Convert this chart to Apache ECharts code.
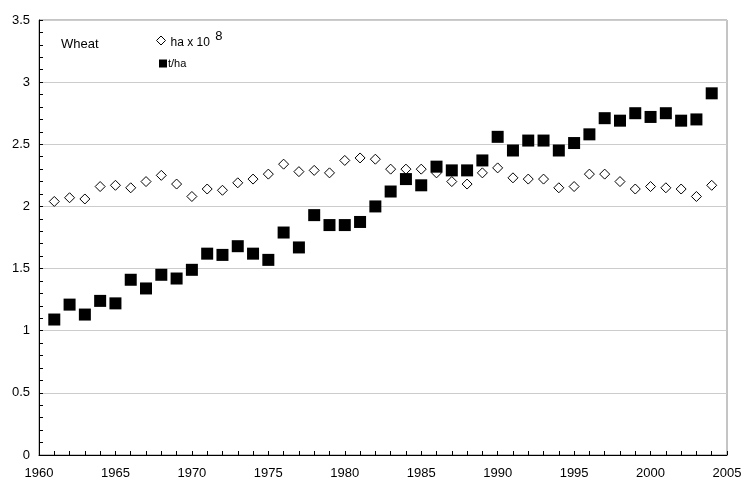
<!DOCTYPE html>
<html>
<head>
<meta charset="utf-8">
<script src="https://cdn.jsdelivr.net/npm/echarts@6/dist/echarts.min.js"></script>
<style>
  html, body { margin: 0; padding: 0; background: #fff; }
  #chart { width: 741px; height: 479px; }
</style>
</head>
<body>
<div id="chart"></div>
<script>
// Wheat: harvested area (ha x 10^8) and yield (t/ha), 1961-2004
const years = [1961,1962,1963,1964,1965,1966,1967,1968,1969,1970,
  1971,1972,1973,1974,1975,1976,1977,1978,1979,1980,
  1981,1982,1983,1984,1985,1986,1987,1988,1989,1990,
  1991,1992,1993,1994,1995,1996,1997,1998,1999,2000,
  2001,2002,2003,2004];

const areaHa = [2.04,2.07,2.06,2.16,2.17,2.15,2.20,2.25,2.18,2.08,
  2.14,2.13,2.19,2.22,2.26,2.34,2.28,2.29,2.27,2.37,
  2.39,2.38,2.30,2.30,2.30,2.27,2.20,2.18,2.27,2.31,
  2.23,2.22,2.22,2.15,2.16,2.26,2.26,2.20,2.14,2.16,
  2.15,2.14,2.08,2.17];

const yieldTHa = [1.09,1.21,1.13,1.24,1.22,1.41,1.34,1.45,1.42,1.49,
  1.62,1.61,1.68,1.62,1.57,1.79,1.67,1.93,1.85,1.85,
  1.875,2.00,2.12,2.22,2.17,2.32,2.29,2.29,2.37,2.56,
  2.45,2.53,2.53,2.45,2.51,2.58,2.71,2.69,2.75,2.72,
  2.75,2.69,2.70,2.91];

const yTicks = [0, 0.5, 1, 1.5, 2, 2.5, 3, 3.5];
const xTicks = [1960, 1965, 1970, 1975, 1980, 1985, 1990, 1995, 2000, 2005];

const FONT = '"Liberation Sans", Arial, sans-serif';
const pair = (xs, ys) => xs.map((x, i) => [x, ys[i]]);

const chart = echarts.init(document.getElementById('chart'), null, { renderer: 'canvas' });
chart.setOption({
  animation: false,
  backgroundColor: '#fff',
  textStyle: { fontFamily: FONT },
  grid: {
    left: 39, right: 14, top: 20, bottom: 24,
    outerBoundsMode: 'none', containLabel: false,
    show: true, borderColor: '#8a8a8a', borderWidth: 1, backgroundColor: 'transparent'
  },
  title: {
    text: 'Wheat', left: 56, top: 33,
    textStyle: { fontFamily: FONT, fontSize: 13, fontWeight: 'normal', color: '#000' }
  },
  legend: [
    {
      left: 151, top: 25, padding: 5,
      itemWidth: 9, itemHeight: 9,
      itemStyle: { borderWidth: 1, borderColor: '#000', color: '#fff' },
      textStyle: {
        fontFamily: FONT, fontSize: 12, color: '#000',
        rich: {
          b: { fontFamily: FONT, fontSize: 12, color: '#000', padding: [5, 0, 0, 0] },
          s: { fontFamily: FONT, fontSize: 13, color: '#000', padding: [0, 0, 8, 2] }
        }
      },
      formatter: () => '{b|ha x 10 }{s|8}',
      data: [{ name: 'area', icon: 'diamond' }]
    },
    {
      left: 154, top: 53, padding: 5,
      itemWidth: 8, itemHeight: 8,
      itemStyle: { color: '#000', borderWidth: 0 },
      textStyle: { fontFamily: FONT, fontSize: 11, color: '#000', padding: [0, 0, 0, -4] },
      data: [{ name: 't/ha', icon: 'rect' }]
    }
  ],
  xAxis: {
    type: 'value', min: xTicks[0], max: xTicks[xTicks.length - 1], interval: 5,
    axisLine: { show: true, lineStyle: { color: '#000', width: 1 } },
    axisTick: { show: true, inside: true, length: 4, lineStyle: { color: '#000' } },
    minorTick: { show: true, splitNumber: 5, length: 4, lineStyle: { color: '#000' } },
    splitLine: { show: false },
    axisLabel: {
      color: '#000', fontSize: 13, fontFamily: FONT, margin: 12, showMaxLabel: true,
      formatter: v => String(v)
    }
  },
  yAxis: {
    type: 'value', min: yTicks[0], max: yTicks[yTicks.length - 1], interval: 0.5,
    axisLine: { show: true, lineStyle: { color: '#000', width: 1 } },
    axisTick: { show: true, inside: true, length: 4, lineStyle: { color: '#000' } },
    minorTick: { show: true, splitNumber: 5, length: 4, lineStyle: { color: '#000' } },
    splitLine: { show: true, lineStyle: { color: '#cccccc', width: 1 } },
    axisLabel: { color: '#000', fontSize: 13, fontFamily: FONT, margin: 9 }
  },
  series: [
    {
      name: 'area', type: 'scatter', symbol: 'diamond', symbolSize: 10,
      itemStyle: { color: '#fff', borderColor: '#000', borderWidth: 1, opacity: 1 },
      data: pair(years, areaHa), z: 2
    },
    {
      name: 't/ha', type: 'scatter', symbol: 'rect', symbolSize: 12,
      itemStyle: { color: '#000', borderWidth: 0, opacity: 1 },
      data: pair(years, yieldTHa), z: 3
    }
  ]
});
</script>
</body>
</html>
